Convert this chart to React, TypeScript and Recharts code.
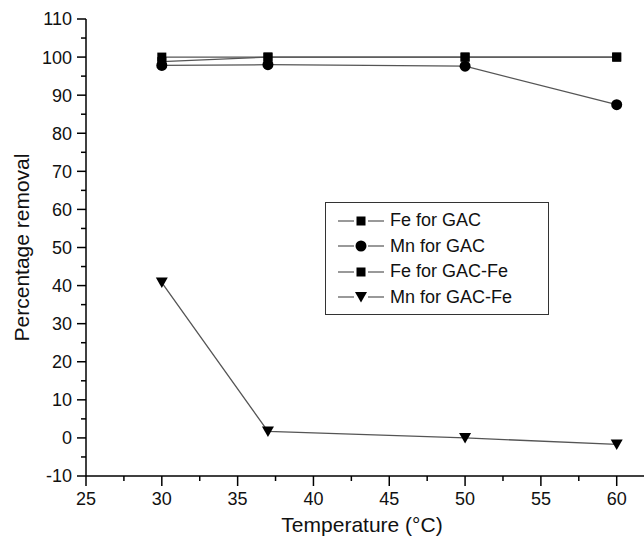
import { LineChart, Line, XAxis, YAxis, Legend } from "recharts";

const temps = [30, 37, 50, 60];
const feGac = [100, 100, 100, 100];
const mnGac = [97.8, 98, 97.6, 87.5];
const feGacFe = [98.8, 100, 100, 100];
const mnGacFe = [40.8, 1.7, 0, -1.7];

const xTicks = [25, 27.5, 30, 32.5, 35, 37.5, 40, 42.5, 45, 47.5, 50, 52.5, 55, 57.5, 60];
const yTicks = [-10, -5, 0, 5, 10, 15, 20, 25, 30, 35, 40, 45, 50, 55, 60, 65, 70, 75, 80, 85, 90, 95, 100, 105, 110];

const rows = temps.map((t, i) => ({
  temp: t,
  feGac: feGac[i],
  mnGac: mnGac[i],
  feGacFe: feGacFe[i],
  mnGacFe: mnGacFe[i]
}));

const FONT = "'Liberation Sans', Arial, sans-serif";
const LINE = "#555";

type Shape = "square" | "circle" | "triangle";

function Marker({ cx, cy, shape }: { cx: number; cy: number; shape: Shape }) {
  if (shape === "square") return <rect x={cx - 4.5} y={cy - 4.5} width={9} height={9} fill="#000" />;
  if (shape === "circle") return <circle cx={cx} cy={cy} r={5.5} fill="#000" />;
  return <polygon points={`${cx - 6},${cy - 5} ${cx + 6},${cy - 5} ${cx},${cy + 5.5}`} fill="#000" />;
}

const dotOf = (shape: Shape) => (p: any) => (
  <Marker key={`${shape}-${p.index}-${p.dataKey}`} cx={p.cx} cy={p.cy} shape={shape} />
);

const series: { key: string; name: string; shape: Shape }[] = [
  { key: "feGac", name: "Fe for GAC", shape: "square" },
  { key: "mnGac", name: "Mn for GAC", shape: "circle" },
  { key: "feGacFe", name: "Fe for GAC-Fe", shape: "square" },
  { key: "mnGacFe", name: "Mn for GAC-Fe", shape: "triangle" }
];

function YTick(props: any) {
  const { x, y, payload } = props;
  const major = payload.value % 10 === 0;
  return (
    <g>
      <line x1={x} x2={x - (major ? 9 : 5)} y1={y} y2={y} stroke="#000" strokeWidth={1.5} />
      {major && (
        <text x={x - 14} y={y} dy="0.36em" textAnchor="end" fontSize={18} fontFamily={FONT} fill="#111">
          {payload.value}
        </text>
      )}
    </g>
  );
}

function XTick(props: any) {
  const { x, y, payload } = props;
  const major = payload.value % 5 === 0;
  return (
    <g>
      <line x1={x} x2={x} y1={y} y2={y + (major ? 10 : 5)} stroke="#000" strokeWidth={1.5} />
      {major && (
        <text x={x} y={y + 29} textAnchor="middle" fontSize={18} fontFamily={FONT} fill="#111">
          {payload.value}
        </text>
      )}
    </g>
  );
}

function LegendBox() {
  return (
    <div
      style={{
        border: "1.5px solid #333",
        background: "#fff",
        padding: "5px 0 5px 12px",
        fontFamily: FONT,
        fontSize: 18,
        color: "#111",
        boxSizing: "border-box",
        width: 224,
        height: 113
      }}
    >
      {series.map((s) => (
        <div key={s.key} style={{ display: "flex", alignItems: "center", height: 25.5 }}>
          <svg width={46} height={20} style={{ marginRight: 6 }}>
            <line x1={0} x2={46} y1={10} y2={10} stroke="#777" strokeWidth={1.3} />
            <rect x={16} y={3} width={14} height={14} fill="#fff" />
            <Marker cx={23} cy={10} shape={s.shape} />
          </svg>
          <span>{s.name}</span>
        </div>
      ))}
    </div>
  );
}

export default function App() {
  return (
    <div style={{ position: "absolute", left: 0, top: 0, width: 644, height: 540, background: "#fff" }}>
      <LineChart width={644} height={540} data={rows} margin={{ top: 19, right: 0, bottom: 0, left: 0 }}>
        <XAxis
          dataKey="temp"
          type="number"
          domain={[25, 61.8]}
          ticks={xTicks}
          interval={0}
          height={64}
          tickSize={0}
          tickMargin={0}
          tickLine={false}
          tick={<XTick />}
          axisLine={{ stroke: "#000", strokeWidth: 1.5 }}
          label={{
            content: (p: any) => {
              const vb = p.viewBox;
              return (
                <text
                  x={vb.x + vb.width / 2 - 3}
                  y={vb.y + 56}
                  textAnchor="middle"
                  fontSize={21}
                  fontFamily={FONT}
                  fill="#111"
                >
                  Temperature (°C)
                </text>
              );
            }
          }}
        />
        <YAxis
          type="number"
          domain={[-10, 110]}
          ticks={yTicks}
          interval={0}
          width={86}
          tickSize={0}
          tickMargin={0}
          tickLine={false}
          tick={<YTick />}
          axisLine={{ stroke: "#000", strokeWidth: 1.5 }}
          label={{
            content: (p: any) => {
              const vb = p.viewBox;
              const cy = vb.y + vb.height / 2;
              return (
                <text
                  x={21}
                  y={cy}
                  transform={`rotate(-90 21 ${cy})`}
                  textAnchor="middle"
                  dy="0.36em"
                  fontSize={21}
                  fontFamily={FONT}
                  fill="#111"
                >
                  Percentage removal
                </text>
              );
            }
          }}
        />
        <Legend
          layout="vertical"
          align="center"
          verticalAlign="middle"
          content={<LegendBox />}
          wrapperStyle={{ position: "absolute", left: 325, top: 202, width: 224, height: 113 }}
        />
        {series.map((s) => (
          <Line
            key={s.key}
            dataKey={s.key}
            name={s.name}
            type="linear"
            stroke={LINE}
            strokeWidth={1.3}
            dot={dotOf(s.shape)}
            activeDot={false}
            isAnimationActive={false}
          />
        ))}
      </LineChart>
    </div>
  );
}
